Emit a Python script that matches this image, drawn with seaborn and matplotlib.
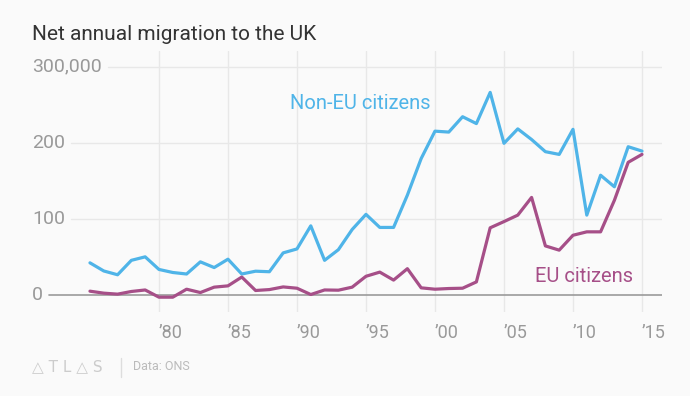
import matplotlib
matplotlib.use("Agg")
import matplotlib.pyplot as plt
import matplotlib.transforms as mtransforms
import seaborn as sns
import pandas as pd

years = list(range(1975, 2016))
non_eu = [41.7, 31, 26, 45, 49.6, 33, 29, 27, 43, 35.5,
          46.5, 27, 30.7, 30, 54.8, 60, 90.4, 45, 59, 85.6,
          105.5, 88.3, 88.3, 130.8, 179, 215, 213.8, 234, 225, 266,
          199, 218, 204, 188, 184.4, 217.4, 104.5, 157, 141.8, 194.5,
          188.8]
eu = [4.4, 1.8, 0.5, 4, 6, -3.5, -3.5, 7, 2.6, 9.7,
      11.4, 23, 5.3, 6.5, 10, 8.3, 0, 6, 5.7, 9.7,
      24, 29.5, 19, 34, 8.8, 7, 7.9, 8.3, 16.6, 87.8,
      96, 104.5, 127.8, 64, 58.4, 78, 82.5, 82.5, 124, 174,
      184.4]
series_names = ["Non-EU citizens", "EU citizens"]
xtick_years = [1980, 1985, 1990, 1995, 2000, 2005, 2010, 2015]
xtick_labels = ["\u201980", "\u201985", "\u201990", "\u201995",
                "\u201900", "\u201905", "\u201910", "\u201915"]
ytick_values = [0, 100, 200, 300]
ytick_labels = ["0", "100", "200", "300,000"]
title = "Net annual migration to the UK"
source = "Data: ONS"

BG = "#fafafa"
BLUE = "#4fb4e8"
PURPLE = "#a64f88"

sns.set_theme(style="white")
plt.rcParams["font.family"] = ["Roboto", "DejaVu Sans"]

df = pd.DataFrame({
    "year": years * 2,
    "value": non_eu + eu,
    "series": [series_names[0]] * len(years) + [series_names[1]] * len(years),
})

fig = plt.figure(figsize=(6.9, 3.96), dpi=100, facecolor=BG)
ax = fig.add_axes([32 / 690, 1 - 312 / 396, 630 / 690, 261 / 396])
ax.set_facecolor(BG)

sns.lineplot(data=df, x="year", y="value", hue="series",
             palette={series_names[0]: BLUE, series_names[1]: PURPLE},
             linewidth=2.3, legend=False, ax=ax, zorder=3)

ax.set_xlim(1970.8, 2016.45)
ax.set_ylim(-23, 320.5)
for s in ax.spines.values():
    s.set_visible(False)

ax.set_xticks(xtick_years)
ax.set_xticklabels(xtick_labels, ha="left", fontsize=13, color="#999999")
ax.tick_params(axis="x", length=0, pad=9)
ax.set_yticks([])
ax.set_xlabel("")
ax.set_ylabel("")
ax.grid(axis="x", color="#e8e8e8", linewidth=1, zorder=0)

# y labels inside the plot, with gridlines starting after them
trans = mtransforms.blended_transform_factory(ax.transAxes, ax.transData)
fig.canvas.draw()
renderer = fig.canvas.get_renderer()
for v, lab in zip(ytick_values, ytick_labels):
    t = ax.text(0, v, lab, transform=trans, ha="left", va="center",
                fontsize=14, color="#999999")
    bb = t.get_window_extent(renderer=renderer)
    ax_bb = ax.get_window_extent(renderer=renderer)
    start = (bb.x1 + 6 - ax_bb.x0) / ax_bb.width
    if v == 0:
        ax.axhline(v, xmin=start, xmax=1, color="#9a9a9a", linewidth=1.2, zorder=2)
    else:
        ax.axhline(v, xmin=start, xmax=1, color="#e8e8e8", linewidth=1, zorder=1)

ax.text(1989.5, 252, series_names[0], color=BLUE, fontsize=14.5,
        ha="left", va="center")
ax.text(2007.25, 24, series_names[1], color=PURPLE, fontsize=14.5,
        ha="left", va="center")

fig.text(32 / 690, 1 - 35 / 396, title, fontsize=15, color="#333333",
         ha="left", va="center")

fig.text(32 / 690, 1 - 367 / 396, "\u25B3 T L \u25B3 S", fontsize=11,
         color="#cccccc", ha="left", va="center",
         family=["DejaVu Sans"])
fig.add_artist(plt.Line2D([121 / 690, 121 / 690], [1 - 358 / 396, 1 - 377 / 396],
                          color="#dddddd", linewidth=1))
fig.text(133 / 690, 1 - 367 / 396, source, fontsize=9, color="#bbbbbb",
         ha="left", va="center")

fig.savefig("out.png", dpi=100, facecolor=BG)
